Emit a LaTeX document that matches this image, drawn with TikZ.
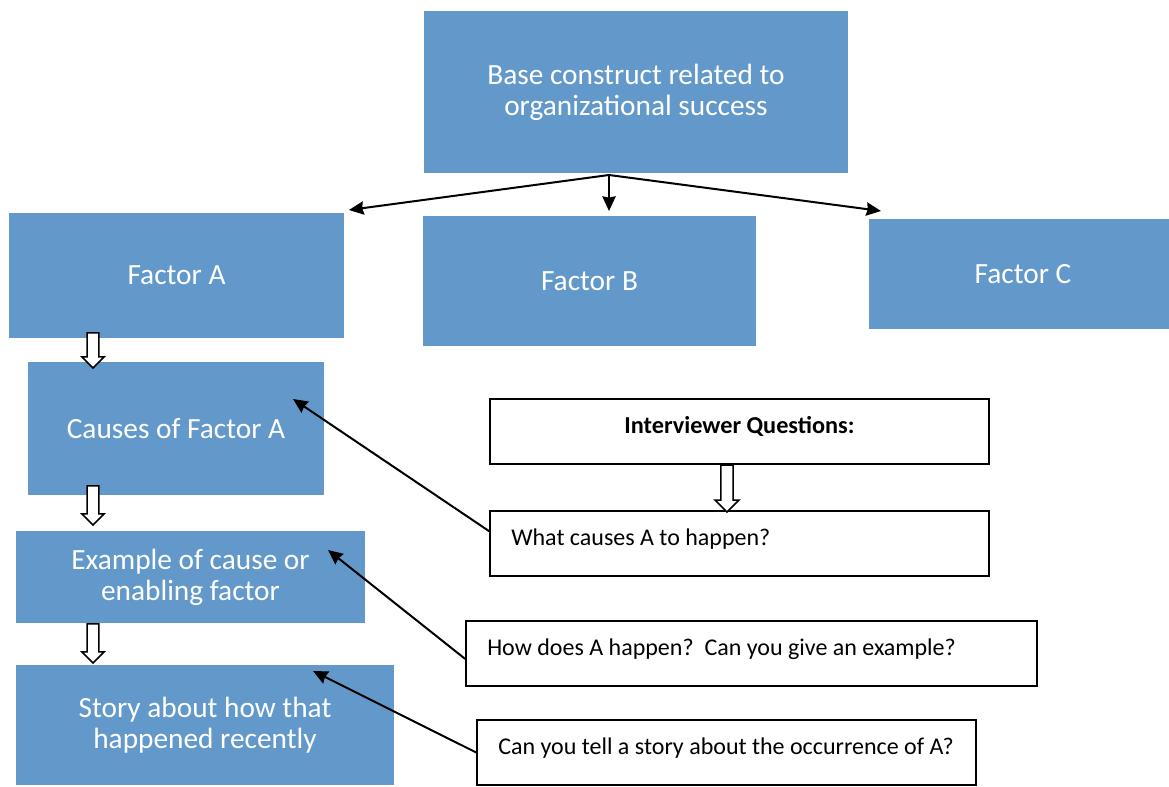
\documentclass[tikz,border=0pt]{standalone}
\usepackage{fontspec}
\setmainfont{Carlito}
\usetikzlibrary{shapes.arrows,arrows.meta}
\definecolor{boxblue}{RGB}{99,153,202}

\begin{document}
\begin{tikzpicture}[x=0.75pt, y=-0.75pt, line width=1.5pt,
  >={Stealth[length=11pt,width=10pt,inset=1pt]},
  bluebox/.style={rectangle, fill=boxblue, text=white, align=center, inner sep=0pt,
    font=\fontsize{22}{23.25}\selectfont},
  askbox/.style={rectangle, draw=black, line width=1.1pt, inner sep=0pt,
    minimum width=374.25pt, minimum height=48.75pt},
  ask/.style={anchor=west, inner sep=0pt, xshift=15.75pt, yshift=-21.75pt,
    font=\fontsize{18}{20}\selectfont},
  down/.style={single arrow, draw=black, fill=white, line width=1.1pt, inner sep=3.2pt,
    shape border rotate=270, minimum width=16.5pt, single arrow head extend=3.2pt}]
  \useasboundingbox (0,0) rectangle (1169,787);

  % blue boxes
  \node [bluebox, minimum width=318pt, minimum height=121.5pt] (base) at (636,92)
    {Base construct related to\\organizational success};
  \node [bluebox, minimum width=251.25pt, minimum height=93.75pt] (facA) at (176.5,275.5) {Factor A};
  \node [bluebox, minimum width=249.75pt, minimum height=97.5pt] (facB) at (589.5,281) {Factor B};
  \node [bluebox, minimum width=225pt, minimum height=82.5pt] (facC) at (1019,274) {\hspace{6pt}Factor C};
  \node [bluebox, minimum width=222pt, minimum height=99.75pt] (causes) at (176,428.5) {Causes of Factor A};
  \node [bluebox, minimum width=261.75pt, minimum height=69pt] (example) at (190.5,577)
    {Example of cause or\\enabling factor};
  \node [bluebox, minimum width=283.5pt, minimum height=90pt] (story) at (205,725)
    {Story about how that\\happened recently};

  % question boxes
  \node [askbox, label={[anchor=center, yshift=-21pt, font=\fontsize{18.2}{20}\selectfont\bfseries]north:Interviewer Questions:}]
    (q0) at (739.5,431.5) {};
  \node [askbox, label={[ask]north west:What causes A to happen?}] (q1) at (739.5,543.5) {};
  \node [askbox, minimum width=428.25pt,
    label={[ask]north west:How does A happen?\ \ Can you give an example?}] (q2) at (751.5,653.5) {};
  \node [askbox, label={[ask]north west:Can you tell a story about the occurrence of A?}] (q3) at (726.5,752.5) {};

  % hollow arrows
  \node [down, minimum height=26.25pt] (d1) at (93,347.5) {};
  \node [down, minimum height=29.25pt] (d2) at (93,502.5) {};
  \node [down, minimum height=29.25pt] (d3) at (93,640.5) {};
  \node [down, minimum height=35.25pt, minimum width=18pt, single arrow head extend=3.7pt] (d4) at (727,485.5) {};

  % split arrows
  \coordinate (split) at (609,175);
  \draw [->] (split) -- ([shift={(4,-2)}]facA.north east);
  \draw [->] (split) -- ([shift={(19.5,-4)}]facB.north);
  \draw [->] (split) -- ([shift={(13,-7)}]facC.north west);

  % questions to levels
  \draw [->] ([shift={(0,21)}]q1.north west) -- ([shift={(-32,38)}]causes.north east);
  \draw [->] ([shift={(0,5.5)}]q2.west) -- ([shift={(-38,20)}]example.north east);
  \draw [->] (q3.west) -- ([shift={(-82,7)}]story.north east);
\end{tikzpicture}
\end{document}
